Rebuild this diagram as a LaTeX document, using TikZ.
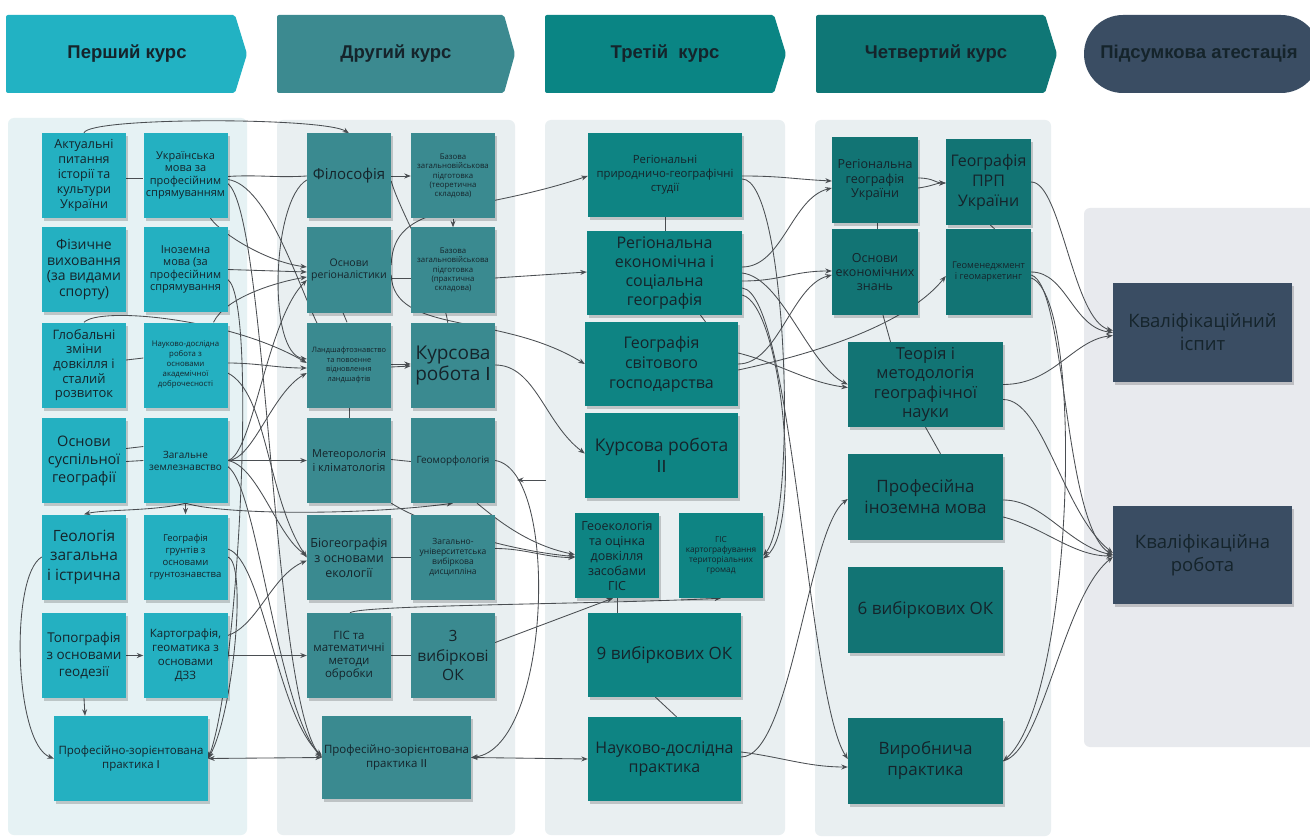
\documentclass[tikz,border=0pt]{standalone}
\usepackage{fontspec}
\setmainfont{Open Sans}
\newfontfamily\hdfont{Liberation Sans}
\newcommand{\rmI}{{\hdfont I}}
\usetikzlibrary{arrows.meta,shadows,calc}
\definecolor{cA}{HTML}{24B0C1}
\definecolor{cB}{HTML}{3A8A90}
\definecolor{cC}{HTML}{0E8483}
\definecolor{cD}{HTML}{127474}
\definecolor{cE}{HTML}{3A4D63}
\definecolor{hA}{HTML}{22B2C3}
\definecolor{hB}{HTML}{3C8A90}
\definecolor{hC}{HTML}{0A8584}
\definecolor{hD}{HTML}{0F7776}
\definecolor{pA}{HTML}{E6F2F4}
\definecolor{pB}{HTML}{E9EFF1}
\definecolor{pE}{HTML}{E8EAEE}
\definecolor{txt}{HTML}{15242B}
\definecolor{lncol}{HTML}{4A4E52}
\pgfdeclarelayer{back}
\pgfdeclarelayer{mid}
\pgfsetlayers{back,mid,main}
\begin{document}
\begin{tikzpicture}[x=1pt,y=-1pt,
  fz/.style 2 args={font=\fontsize{#1}{#2}\selectfont},
  bx/.style={inner sep=0pt, align=center, text=txt,
    drop shadow={shadow xshift=2pt, shadow yshift=-3pt, opacity=0.18, fill=black}},
  sq/.style={bx, minimum width=84pt, minimum height=85pt},
  hd/.style={font=\hdfont\bfseries\fontsize{18.5}{21}\selectfont, text=txt},
  cn/.style={draw=lncol, line width=0.85pt},
  ar/.style={cn, -{Stealth[length=6.5pt,width=5pt]}},
  bi/.style={cn, {Stealth[length=6.5pt,width=5pt]}-{Stealth[length=6.5pt,width=5pt]}}]
\useasboundingbox (0,0) rectangle (1310,837);
\begin{pgfonlayer}{back}
\fill[white] (0,0) rectangle (1310,837);
% panels
\fill[pA, rounded corners=6pt] (8,118) rectangle (247,835);
\fill[pB, rounded corners=6pt] (277,120) rectangle (515,835);
\fill[pB, rounded corners=6pt] (545,120) rectangle (785,835);
\fill[pB, rounded corners=6pt] (815,120) rectangle (1051,836);
\fill[pE, rounded corners=6pt] (1084,208) rectangle (1316,747);
% headers
\fill[hA, rounded corners=2pt] (6,15) -- (235,15) -- (247,54) -- (235,93) -- (6,93) -- cycle;
\fill[hB, rounded corners=2pt] (277,15) -- (504,15) -- (515,54) -- (504,93) -- (277,93) -- cycle;
\fill[hC, rounded corners=2pt] (545,15) -- (774,15) -- (786,54) -- (774,93) -- (545,93) -- cycle;
\fill[hD, rounded corners=2pt] (816,15) -- (1045,15) -- (1057,54) -- (1045,93) -- (816,93) -- cycle;
\fill[cE, rounded corners=39pt] (1084,15) rectangle (1320,93);
\end{pgfonlayer}

\node[hd] (hd1) at (127,54) {Перший курс};
\node[hd] (hd2) at (396,54) {Другий курс};
\node[hd] (hd3) at (665,54) {Третій\ \ курс};
\node[hd] (hd4) at (936,54) {Четвертий курс};
\node[hd] (hd5) at (1199,54) {Підсумкова атестація};

% column 1
\node[sq, fill=cA, fz={12.5}{15}] (a1) at (84,175.5) {Актуальні\\питання\\історії та\\культури\\України};
\node[sq, fill=cA, fz={11}{12.4}] (b1) at (185.5,175.5) {Українська\\мова за\\професійним\\спрямуванням};
\node[sq, fill=cA, fz={14}{15.6}] (a2) at (84,269.5) {Фізичне\\виховання\\(за видами\\спорту)};
\node[sq, fill=cA, fz={11}{12.4}] (b2) at (185.5,269.5) {Іноземна\\мова (за\\професійним\\спрямування};
\node[sq, fill=cA, fz={13}{14.6}] (a3) at (84,365) {Глобальні\\зміни\\довкілля і\\сталий\\розвиток};
\node[sq, fill=cA, fz={7.8}{10}] (b3) at (185.5,365) {Науково-дослідна\\робота з\\основами\\академічної\\доброчесності};
\node[sq, fill=cA, fz={14.5}{18}] (a4) at (84,460.5) {Основи\\суспільної\\географії};
\node[sq, fill=cA, fz={10}{12}] (b4) at (185.5,460.5) {Загальне\\землезнавство};
\node[sq, fill=cA, fz={15.5}{19.5}] (a5) at (84,557) {Геологія\\загальна\\і істрична};
\node[sq, fill=cA, fz={9.5}{12}] (b5) at (185.5,557) {Географія\\грунтів з\\основами\\грунтознавства};
\node[sq, fill=cA, fz={13.5}{16.7}] (a6) at (84,655.5) {Топографія\\з основами\\геодезії};
\node[sq, fill=cA, fz={11.5}{14}] (b6) at (185.5,655.5) {Картографія,\\геоматика з\\основами\\ДЗЗ};
\node[bx, fill=cA, minimum width=154pt, minimum height=85pt, fz={11.5}{14}] (p1) at (131,758.5) {Професійно-зорієнтована\\практика \rmI};

% column 2
\node[sq, fill=cB, fz={15}{18}] (c1) at (349,176) {Філософія};
\node[sq, fill=cB, fz={7.8}{9.3}] (d1) at (453,176) {Базова\\загальновійськова\\підготовка\\(теоретична\\складова)};
\node[sq, fill=cB, fz={10.5}{12.7}] (c2) at (349,270) {Основи\\регіоналістики};
\node[sq, fill=cB, fz={7.8}{9.3}] (d2) at (453,270) {Базова\\загальновійськова\\підготовка\\(практична\\складова)};
\node[sq, fill=cB, fz={7.4}{9.5}] (c3) at (349,365) {Ландшафтознавство\\та повоєнне\\відновлення\\ландшафтів};
\node[sq, fill=cB, fz={19}{21}] (d3) at (453,365) {Курсова\\робота \rmI};
\node[sq, fill=cB, fz={11}{13.3}] (c4) at (349,460.5) {Метеорологія\\і кліматологія};
\node[sq, fill=cB, fz={10}{12}] (d4) at (453,460.5) {Геоморфологія};
\node[sq, fill=cB, fz={12.5}{15}] (c5) at (349,557.5) {Біогеографія\\з основами\\екології};
\node[sq, fill=cB, fz={8.5}{10}] (d5) at (453,557.5) {Загально-\\університетська\\вибіркова\\дисципліна};
\node[sq, fill=cB, fz={11.5}{12.7}] (c6) at (349,655.5) {ГІС та\\математичні\\методи\\обробки};
\node[sq, fill=cB, fz={15.5}{19.5}] (d6) at (453,655.5) {3\\вибіркові\\ОК};
\node[bx, fill=cB, minimum width=149pt, minimum height=83pt, fz={11.5}{14}] (p2) at (396.5,757.5) {Професійно-зорієнтована\\практика \rmI\rmI};

% column 3
\node[bx, fill=cC, minimum width=154pt, minimum height=84pt, fz={11.3}{14}] (e1) at (665,175) {Регіональні\\природничо-географічні\\студії};
\node[bx, fill=cC, minimum width=155pt, minimum height=84pt, fz={16}{19}] (e2) at (664.5,273) {Регіональна\\економічна і\\соціальна\\географія};
\node[bx, fill=cC, minimum width=153pt, minimum height=84pt, fz={16}{20}] (e3) at (661.5,364) {Географія\\світового\\господарства};
\node[bx, fill=cC, minimum width=153pt, minimum height=85pt, fz={17.5}{21}] (e4) at (661.5,455.5) {Курсова робота\\\rmI\rmI};
\node[sq, fill=cC, fz={12.5}{15}] (e5) at (617,555.5) {Геоекологія\\та оцінка\\довкілля\\засобами\\ГІС};
\node[sq, fill=cC, fz={8.3}{10}] (f5) at (721,555.5) {ГІС\\картографування\\територіальних\\громад};
\node[bx, fill=cC, minimum width=153pt, minimum height=84pt, fz={17}{20}] (e6) at (664.5,655) {9 вибіркових ОК};
\node[bx, fill=cC, minimum width=153pt, minimum height=84pt, fz={16}{19}] (e7) at (664.5,759) {Науково-дослідна\\практика};

% column 4
\node[bx, fill=cD, minimum width=86pt, minimum height=86pt, fz={12.5}{14.3}] (g1) at (875,180) {Регіональна\\географія\\України};
\node[bx, fill=cD, minimum width=85pt, minimum height=86pt, fz={16}{20}] (h1) at (988.5,182) {Географія\\ПРП\\України};
\node[bx, fill=cD, minimum width=86pt, minimum height=86pt, fz={12.5}{14}] (g2) at (875,272) {Основи\\економічних\\знань};
\node[bx, fill=cD, minimum width=85pt, minimum height=86pt, fz={9.3}{10.7}] (h2) at (988.5,272) {Геоменеджмент\\і геомаркетинг};
\node[bx, fill=cD, minimum width=155pt, minimum height=85pt, fz={16.5}{19.5}] (g3) at (925.5,384.5) {Теорія і\\методологія\\географічної\\науки};
\node[bx, fill=cD, minimum width=155pt, minimum height=86pt, fz={17}{21}] (g4) at (925.5,497) {Професійна\\іноземна мова};
\node[bx, fill=cD, minimum width=155pt, minimum height=86pt, fz={17}{20}] (g5) at (925.5,610) {6 вибіркових ОК};
\node[bx, fill=cD, minimum width=155pt, minimum height=86pt, fz={17}{21}] (g6) at (925.5,761) {Виробнича\\практика};

% column 5
\node[bx, fill=cE, minimum width=179pt, minimum height=99pt, fz={18.5}{23}] (k1) at (1202.5,332.5) {Кваліфікаційний\\іспит};
\node[bx, fill=cE, minimum width=179pt, minimum height=98pt, fz={18.5}{23}] (k2) at (1202.5,555) {Кваліфікаційна\\робота};

\coordinate (sa) at (546,480);
\coordinate (sb) at (517,480);

\begin{pgfonlayer}{mid}
% column 1 -> column 2
\draw[ar] (a1.north) .. controls +(6,-16) and +(-25,-16) .. (c1.north);
\draw[cn] ($(a1.east)+(0,3)$) -- ($(b1.west)+(0,3)$);
\draw[cn] ($(b1.east)+(0,1)$) .. controls +(30,-2) and +(-30,2) .. (c1.west);
\draw[cn] ($(b1.east)+(0,4)$) .. controls +(40,5) and +(-20,-40) .. ($(c3.north)+(-30,5)$);
\draw[ar] ($(b1.south)+(25,0)$) .. controls +(10,15) and +(-40,-5) .. ($(c2.west)+(0,-3)$);
\draw[ar] (b2.east) -- ($(c2.west)+(0,2)$);
\draw[ar] ($(b3.north)+(28,0)$) .. controls +(12,-25) and +(-30,5) .. ($(c2.west)+(0,7)$);
\draw[ar] (a3.north) .. controls +(16,-16) and +(-77,-45) .. ($(c3.west)+(0,-2)$);
\draw[cn] ($(a3.east)+(0,-5)$) -- ($(b3.west)+(0,-7)$);
\draw[ar] ($(b3.east)+(0,-2)$) .. controls +(30,0) and +(-30,0) .. ($(c3.west)+(0,3)$);
\draw[ar] ($(b3.east)+(0,8)$) .. controls +(40,20) and +(-40,-60) .. (c5.west);
\draw[cn] ($(a4.east)+(0,-12)$) -- ($(b4.west)+(0,-14)$);
\draw[cn] ($(a4.east)+(0,1)$) -- (b4.west);
\draw[ar] (b4.east) -- (c4.west);
\draw[ar] (b4.east) .. controls +(25,0) and +(-35,20) .. ($(c3.west)+(0,8)$);
\draw[ar] (b4.east) .. controls +(25,-5) and +(-40,40) .. ($(c2.west)+(0,10)$);
\draw[ar] (b4.east) .. controls +(30,5) and +(-30,-20) .. ($(c5.west)+(0,-2)$);
\draw[ar] (b4.south) .. controls +(-30,8) and +(20,-5) .. (a5.north);
\draw[ar] (b4.south) -- (b5.north);
\draw[ar] (b4.south) .. controls +(40,12) and +(-90,12) .. (d4.south);
\draw[ar] (a5.west) .. controls +(-32,18) and +(-40,-15) .. (p1.west);
\draw[ar] (b5.east) .. controls +(20,5) and +(25,-45) .. (p1.east);
\draw[ar] ($(b2.east)+(0,10)$) .. controls +(30,20) and +(30,-80) .. (p1.east);
\draw[ar] (a6.east) -- (b6.west);
\draw[ar] (b6.east) -- (c6.west);
\draw[ar] ($(b6.east)+(0,-20)$) .. controls +(30,-10) and +(-35,15) .. ($(c5.west)+(0,3)$);
\draw[ar] (a6.south) -- ($(p1.north)+(-46,0)$);
\draw[bi] (p1.east) -- (p2.west);
\draw[ar] ($(b1.east)+(0,8)$) .. controls +(40,30) and +(-50,-60) .. (p2.west);
\draw[ar] ($(b4.east)+(0,6)$) .. controls +(30,20) and +(-45,-50) .. (p2.west);
\draw[ar] ($(b5.east)+(0,-8)$) .. controls +(35,10) and +(-45,-40) .. ($(p2.west)+(0,-2)$);
\draw[ar] ($(c1.west)+(0,4)$) .. controls +(-35,20) and +(-40,-5) .. ($(c3.west)+(0,-6)$);

% column 2 internal and to column 3
\draw[ar] (c1.east) -- (d1.west);
\draw[ar] (d1.south) -- (d2.north);
\draw[cn] ($(c1.east)+(0,5)$) .. controls +(8,30) and +(-5,-40) .. ($(d3.north)+(-5,2)$);
\draw[cn] ($(c2.south)+(-6,0)$) -- ($(c3.north)+(-2,0)$);
\draw[cn] ($(c2.east)+(0,8)$) -- ($(d2.west)+(0,8)$);
\draw[ar] ($(c2.east)+(0,-5)$) .. controls +(2,-65) and +(-120,40) .. ($(e1.west)+(0,1)$);
\draw[ar] ($(c2.east)+(0,5)$) .. controls +(2,60) and +(-85,-52) .. (e3.west);
\draw[ar] ($(c3.east)+(0,-1)$) -- ($(d3.west)+(0,-1)$);
\draw[ar] ($(c3.east)+(0,2)$) -- ($(d3.west)+(0,1)$);
\draw[cn] (c3.south) -- (c4.north);
\draw[cn] ($(c4.east)+(0,-1)$) -- ($(d4.west)+(0,1)$);
\draw[ar] (c4.south east) .. controls +(40,25) and +(-60,-5) .. ($(e5.west)+(0,1)$);
\draw[ar] ($(d4.south)+(24,0)$) .. controls +(15,12) and +(-50,-10) .. ($(e5.west)+(0,-1)$);
\draw[ar] ($(d5.east)+(0,-9)$) .. controls +(30,0) and +(-30,0) .. ($(e5.west)+(0,2)$);
\draw[cn] (c5.east) -- (d5.west);
\draw[cn] (c6.east) -- (d6.west);
\draw[ar] ($(d6.east)+(0,-13)$) -- ($(e5.south)+(-4,0)$);
\draw[ar] ($(c6.north)+(1,0)$) .. controls +(10,-8) and +(-120,6) .. (f5.south);
\draw[ar] ($(d2.east)+(0,8)$) -- ($(e2.west)+(0,-1)$);
\draw[ar] (d3.east) .. controls +(40,0) and +(-40,-30) .. ($(e4.west)+(0,-2)$);
\draw[ar] (d4.east) .. controls +(65,10) and +(80,-10) .. (p2.east);
\draw[bi] (p2.east) -- (e7.west);
\draw[ar] (sa) -- (sb);

% column 3
\draw[cn] (e1.south) -- ($(e2.north)+(0.5,0)$);
\draw[cn] ($(e2.south)+(36,0)$) -- ($(e3.north)+(44,0)$);
\draw[cn] (e5.south) -- ($(e6.north)+(-47.5,0)$);
\draw[cn] ($(e6.south)+(-9,0)$) -- ($(e7.north)+(12,0)$);
\draw[ar] ($(e1.east)+(0,1)$) .. controls +(40,0) and +(-40,-2) .. ($(g1.west)+(0,1)$);
\draw[ar] ($(e1.east)+(0,4)$) .. controls +(45,0) and +(35,-40) .. (f5.east);
\draw[ar] ($(e2.east)+(0,-6)$) .. controls +(40,0) and +(-40,10) .. ($(g1.west)+(0,8)$);
\draw[ar] (e2.east) .. controls +(40,5) and +(-40,-20) .. (g3.west);
\draw[ar] ($(e2.east)+(0,8)$) .. controls +(40,0) and +(-40,0) .. ($(g2.west)+(0,-1)$);
\draw[ar] ($(e2.east)+(0,15)$) .. controls +(50,5) and +(-40,-60) .. ($(g6.west)+(0,-2)$);
\draw[ar] ($(e2.east)+(0,22)$) .. controls +(40,10) and +(40,-30) .. ($(f5.east)+(0,3)$);
\draw[ar] (e3.east) .. controls +(40,0) and +(-40,10) .. ($(g2.west)+(0,3)$);
\draw[ar] ($(e3.east)+(0,6)$) .. controls +(140,-30) and +(-20,25) .. ($(h2.west)+(0,4)$);
\draw[ar] ($(e3.east)+(0,-11)$) .. controls +(40,10) and +(-40,-5) .. ($(g3.west)+(0,3)$);
\draw[ar] ($(e7.east)+(0,-2)$) .. controls +(50,0) and +(-40,30) .. ($(g4.west)+(0,2)$);
\draw[ar] ($(e7.east)+(0,-7)$) .. controls +(40,5) and +(-40,0) .. ($(g6.west)+(0,6)$);

% column 4
\draw[ar] ($(g1.east)+(0,-2)$) .. controls +(15,0) and +(-10,0) .. ($(h1.west)+(0,1)$);
\draw[ar] ($(g1.east)+(0,8)$) .. controls +(15,-2) and +(-10,0) .. ($(h1.west)+(0,1)$);
\draw[cn] ($(g1.south)+(2,0)$) -- ($(g2.north)+(2,0)$);
\draw[cn] ($(h1.south)+(2,0)$) -- ($(h2.north)+(6,0)$);
\draw[cn] ($(g2.south)+(8,0)$) -- ($(g3.north)+(-35,0)$);
\draw[cn] (g3.south) -- ($(g4.north)+(15,0)$);
\draw[ar] (h1.east) .. controls +(30,0) and +(-40,-10) .. ($(k1.west)+(0,-2)$);
\draw[ar] (h2.east) .. controls +(35,0) and +(-40,-5) .. (k1.west);
\draw[ar] ($(h2.east)+(0,3)$) .. controls +(35,10) and +(-50,-30) .. (k2.west);
\draw[ar] ($(h2.east)+(0,6)$) .. controls +(55,20) and +(70,-60) .. (g6.east);
\draw[ar] (g3.east) .. controls +(50,0) and +(-40,5) .. ($(k1.west)+(0,3)$);
\draw[ar] ($(g3.east)+(0,15)$) .. controls +(40,0) and +(-50,-40) .. ($(k2.west)+(0,-2)$);
\draw[ar] ($(g4.east)+(0,3)$) .. controls +(40,0) and +(-45,-10) .. (k2.west);
\draw[ar] ($(g4.east)+(0,20)$) .. controls +(40,10) and +(-40,0) .. ($(k2.west)+(0,1)$);
\draw[ar] (g6.east) .. controls +(40,-10) and +(-50,40) .. ($(k2.west)+(0,2)$);
\end{pgfonlayer}
\end{tikzpicture}
\end{document}
